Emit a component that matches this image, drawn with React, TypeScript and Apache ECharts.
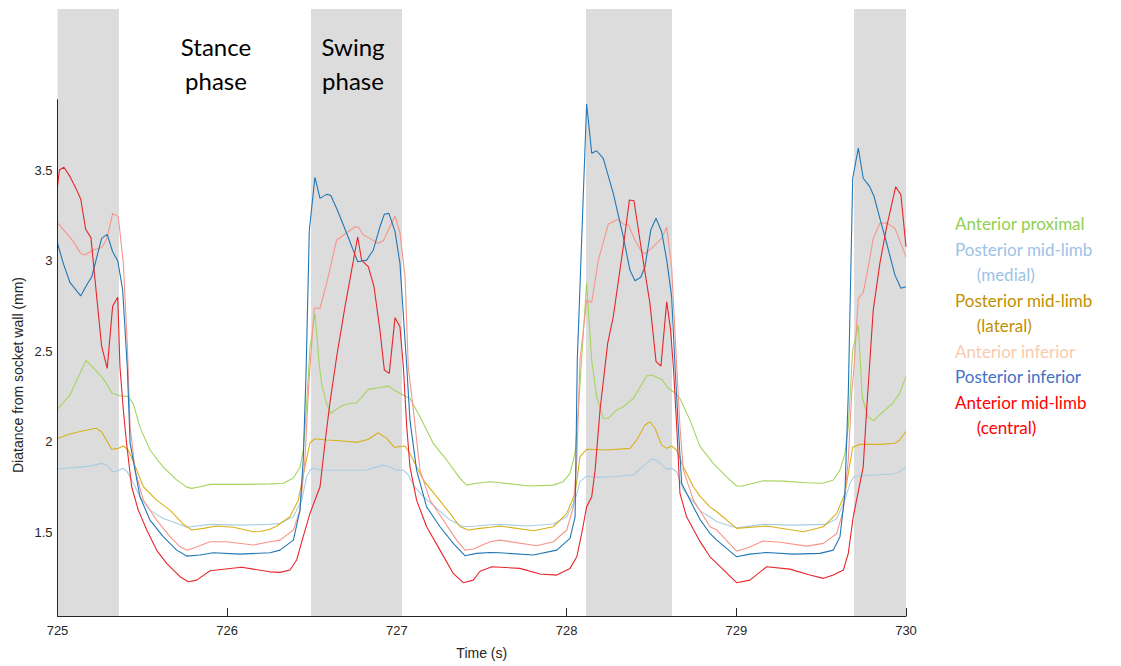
import React, { useEffect, useRef } from "react";
import * as echarts from "echarts";

const seriesNames = [
  "Anterior proximal",
  "Posterior mid-limb (medial)",
  "Posterior mid-limb (lateral)",
  "Anterior inferior",
  "Posterior inferior",
  "Anterior mid-limb (central)",
];

const legendLabels: Record<string, string> = {
  "Anterior proximal": "Anterior proximal",
  "Posterior mid-limb (medial)": "Posterior mid-limb\n     (medial)",
  "Posterior mid-limb (lateral)": "Posterior mid-limb\n     (lateral)",
  "Anterior inferior": "Anterior inferior",
  "Posterior inferior": "Posterior inferior",
  "Anterior mid-limb (central)": "Anterior mid-limb\n     (central)",
};

const lineColors = ["#a5d45e", "#a9cde4", "#d8b11c", "#f6958b", "#2277b4", "#e7252a"];
const legendColors = ["#92d050", "#9dc3e6", "#bf9000", "#f8cbad", "#4472c4", "#ff0000"];

// gray swing-phase bands (s)
const swingBands = [
  [725, 725.362],
  [726.494, 727.03],
  [728.114, 728.621],
  [729.694, 730],
];

const yTickValues = [1.5, 2, 2.5, 3, 3.5];
const yMin = 1.038;
const yAxisTop = 3.892;
const yPlotMax = 4.391;

const anteriorProximal = [
  [725, 2.18], [725.074, 2.26], [725.168, 2.45], [725.26, 2.36], [725.29, 2.32], [725.32, 2.27],
  [725.368, 2.255], [725.417, 2.25], [725.447, 2.21], [725.486, 2.08], [725.545, 1.955], [725.623, 1.86],
  [725.702, 1.79], [725.761, 1.75], [725.791, 1.743], [725.84, 1.752], [725.899, 1.765], [726.075, 1.765],
  [726.252, 1.768], [726.331, 1.771], [726.39, 1.8], [726.429, 1.86], [726.448, 1.955], [726.462, 2.12],
  [726.488, 2.52], [726.517, 2.71], [726.543, 2.42], [726.557, 2.32], [726.586, 2.21], [726.61, 2.157],
  [726.665, 2.194], [726.704, 2.209], [726.763, 2.216], [726.832, 2.29], [726.881, 2.297], [726.949, 2.308],
  [726.989, 2.282], [727.038, 2.259], [727.077, 2.24], [727.136, 2.139], [727.214, 1.992], [727.293, 1.9],
  [727.372, 1.798], [727.411, 1.761], [727.47, 1.771], [727.549, 1.78], [727.608, 1.774], [727.784, 1.756],
  [727.922, 1.761], [727.98, 1.78], [728.02, 1.826], [728.05, 1.936], [728.069, 2.176], [728.118, 2.88],
  [728.148, 2.45], [728.177, 2.249], [728.216, 2.13], [728.246, 2.13], [728.295, 2.176], [728.334, 2.194],
  [728.393, 2.24], [728.472, 2.364], [728.501, 2.369], [728.56, 2.345], [728.599, 2.296], [728.629, 2.277],
  [728.668, 2.24], [728.727, 2.12], [728.786, 1.975], [728.864, 1.881], [728.943, 1.807], [729.002, 1.756],
  [729.041, 1.757], [729.159, 1.785], [729.277, 1.783], [729.415, 1.774], [729.513, 1.771], [729.572, 1.789],
  [729.611, 1.844], [729.64, 1.936], [729.66, 2.083], [729.686, 2.507], [729.719, 2.645], [729.742, 2.249],
  [729.775, 2.139], [729.809, 2.117], [729.854, 2.157], [729.922, 2.213], [729.962, 2.268], [730, 2.36],
];

const posteriorMedial = [
  [725, 1.85], [725.113, 1.859], [725.192, 1.866], [725.26, 1.881], [725.29, 1.872], [725.325, 1.835],
  [725.358, 1.84], [725.384, 1.854], [725.411, 1.835], [725.447, 1.771], [725.486, 1.697], [725.545, 1.623],
  [725.623, 1.577], [725.702, 1.55], [725.761, 1.528], [725.899, 1.544], [726.075, 1.54], [726.252, 1.544],
  [726.311, 1.55], [726.39, 1.586], [726.439, 1.678], [726.468, 1.807], [726.488, 1.844], [726.507, 1.854],
  [726.557, 1.844], [726.684, 1.843], [726.822, 1.844], [726.871, 1.859], [726.92, 1.872], [726.959, 1.862],
  [726.989, 1.844], [727.038, 1.844], [727.067, 1.817], [727.097, 1.761], [727.156, 1.697], [727.234, 1.633],
  [727.313, 1.568], [727.391, 1.531], [727.47, 1.535], [727.549, 1.542], [727.608, 1.544], [727.765, 1.535],
  [727.922, 1.546], [728.001, 1.586], [728.05, 1.678], [728.079, 1.78], [728.118, 1.811], [728.177, 1.804],
  [728.275, 1.807], [728.393, 1.817], [728.452, 1.866], [728.501, 1.905], [728.531, 1.899], [728.59, 1.848],
  [728.619, 1.854], [728.648, 1.835], [728.688, 1.734], [728.747, 1.669], [728.786, 1.62], [728.845, 1.585],
  [728.885, 1.559], [729.002, 1.525], [729.159, 1.544], [729.336, 1.54], [729.533, 1.544], [729.592, 1.577],
  [729.64, 1.678], [729.67, 1.771], [729.694, 1.807], [729.729, 1.813], [729.925, 1.822], [729.962, 1.835],
  [730, 1.862],
];

const posteriorLateral = [
  [725, 2.019], [725.074, 2.043], [725.152, 2.061], [725.227, 2.075], [725.26, 2.056], [725.319, 1.959],
  [725.358, 1.964], [725.388, 1.977], [725.417, 1.955], [725.467, 1.844], [725.506, 1.752], [725.584, 1.678],
  [725.663, 1.623], [725.741, 1.546], [725.791, 1.513], [725.859, 1.522], [725.938, 1.535], [726.036, 1.528],
  [726.154, 1.503], [726.193, 1.505], [726.252, 1.517], [726.292, 1.535], [726.37, 1.586], [726.419, 1.678],
  [726.458, 1.862], [726.488, 1.995], [726.517, 2.017], [726.586, 2.01], [726.665, 2.006], [726.763, 1.997],
  [726.832, 2.014], [726.89, 2.05], [726.94, 2.019], [726.985, 1.97], [727.048, 1.977], [727.077, 1.936],
  [727.156, 1.789], [727.234, 1.697], [727.313, 1.605], [727.372, 1.531], [727.421, 1.513], [727.49, 1.522],
  [727.549, 1.528], [727.608, 1.535], [727.804, 1.509], [727.922, 1.531], [728.001, 1.605], [728.05, 1.715],
  [728.079, 1.918], [728.118, 1.959], [728.236, 1.955], [728.373, 1.964], [728.413, 2.01], [728.462, 2.093],
  [728.491, 2.111], [728.521, 2.075], [728.56, 1.982], [728.59, 1.964], [728.619, 1.977], [728.648, 1.955],
  [728.688, 1.862], [728.747, 1.752], [728.786, 1.7], [728.845, 1.641], [728.885, 1.614], [729.002, 1.522],
  [729.179, 1.535], [729.395, 1.503], [729.513, 1.531], [729.592, 1.605], [729.64, 1.715], [729.67, 1.881],
  [729.686, 1.97], [729.729, 1.986], [729.847, 1.986], [729.935, 1.992], [729.962, 2.01], [730, 2.056],
];

const anteriorInferior = [
  [725, 3.21], [725.054, 3.152], [725.093, 3.106], [725.137, 3.041], [725.162, 3.032], [725.211, 3.06],
  [725.26, 3.074], [725.29, 3.119], [725.325, 3.262], [725.358, 3.244], [725.388, 2.986], [725.411, 2.544],
  [725.428, 2.083], [725.457, 1.844], [725.506, 1.678], [725.584, 1.568], [725.663, 1.476], [725.722, 1.42],
  [725.761, 1.402], [725.8, 1.412], [725.899, 1.448], [725.997, 1.448], [726.154, 1.43], [726.252, 1.448],
  [726.311, 1.457], [726.39, 1.513], [726.429, 1.623], [726.458, 1.9], [726.478, 2.268], [726.488, 2.415],
  [726.513, 2.738], [726.547, 2.738], [726.586, 2.876], [726.645, 3.115], [726.704, 3.155], [726.753, 3.188],
  [726.773, 3.185], [726.802, 3.143], [726.841, 3.124], [726.89, 3.097], [726.92, 3.111], [726.959, 3.188],
  [726.989, 3.247], [727.018, 3.155], [727.048, 2.912], [727.067, 2.415], [727.097, 2.176], [727.136, 1.844],
  [727.195, 1.678], [727.273, 1.568], [727.352, 1.457], [727.401, 1.402], [727.45, 1.408], [727.549, 1.448],
  [727.608, 1.457], [727.824, 1.426], [727.922, 1.448], [728.001, 1.513], [728.04, 1.641], [728.06, 1.9],
  [728.079, 2.452], [728.118, 2.78], [728.148, 2.771], [728.187, 3.004], [728.246, 3.203], [728.305, 3.229],
  [728.334, 3.203], [728.364, 3.198], [728.403, 3.115], [728.442, 3.05], [728.466, 3.041], [728.511, 3.078],
  [728.56, 3.124], [728.59, 3.185], [728.619, 2.967], [728.649, 2.415], [728.668, 2.083], [728.688, 1.844],
  [728.747, 1.678], [728.786, 1.62], [728.845, 1.531], [728.885, 1.513], [729.002, 1.397], [729.061, 1.412],
  [729.159, 1.452], [729.258, 1.445], [729.415, 1.424], [729.513, 1.439], [729.592, 1.494], [729.631, 1.623],
  [729.66, 1.9], [729.68, 2.268], [729.694, 2.415], [729.719, 2.793], [729.748, 2.824], [729.778, 2.967],
  [729.807, 3.124], [729.846, 3.207], [729.886, 3.21], [729.935, 3.179], [730, 3.023],
];

const posteriorInferior = [
  [725, 3.097], [725.034, 2.986], [725.074, 2.879], [725.137, 2.806], [725.172, 2.866], [725.202, 2.912],
  [725.26, 3.124], [725.293, 3.146], [725.325, 3.05], [725.355, 3.0], [725.384, 2.839], [725.411, 2.415],
  [725.428, 1.992], [725.457, 1.844], [725.486, 1.697], [725.545, 1.568], [725.623, 1.476], [725.702, 1.402],
  [725.761, 1.369], [725.84, 1.375], [725.918, 1.387], [726.075, 1.38], [726.252, 1.387], [726.311, 1.402],
  [726.39, 1.457], [726.429, 1.623], [726.448, 1.9], [726.464, 2.36], [726.484, 3.17], [726.517, 3.461],
  [726.547, 3.345], [726.586, 3.367], [726.61, 3.362], [726.649, 3.281], [726.704, 3.152], [726.769, 2.995],
  [726.822, 3.004], [726.861, 3.06], [726.9, 3.188], [726.926, 3.257], [726.953, 3.262], [726.989, 3.161],
  [727.018, 2.986], [727.058, 2.415], [727.077, 2.12], [727.116, 1.844], [727.175, 1.641], [727.254, 1.531],
  [727.332, 1.439], [727.401, 1.371], [727.47, 1.384], [727.549, 1.389], [727.608, 1.387], [727.804, 1.375],
  [727.942, 1.402], [728.02, 1.467], [728.05, 1.586], [728.063, 2.452], [728.118, 3.866], [728.148, 3.594],
  [728.177, 3.608], [728.216, 3.566], [728.275, 3.373], [728.334, 3.133], [728.373, 2.949], [728.403, 2.89],
  [728.437, 2.909], [728.462, 2.967], [728.496, 3.17], [728.527, 3.235], [728.56, 3.161], [728.59, 3.004],
  [728.619, 2.802], [728.639, 2.415], [728.658, 2.083], [728.678, 1.771], [728.747, 1.641], [728.786, 1.572],
  [728.845, 1.494], [728.885, 1.457], [729.002, 1.365], [729.08, 1.38], [729.179, 1.389], [729.336, 1.38],
  [729.493, 1.384], [729.572, 1.402], [729.611, 1.476], [729.64, 1.715], [729.66, 2.268], [729.686, 3.456],
  [729.719, 3.622], [729.748, 3.456], [729.784, 3.413], [729.811, 3.358], [729.846, 3.235], [729.886, 3.097],
  [729.935, 2.921], [729.97, 2.848], [730, 2.857],
];

const anteriorMidLimb = [
  [725, 3.409], [725.011, 3.502], [725.038, 3.517], [725.074, 3.465], [725.109, 3.4], [725.137, 3.34],
  [725.166, 3.174], [725.197, 3.128], [725.227, 2.839], [725.26, 2.529], [725.293, 2.406], [725.325, 2.75],
  [725.355, 2.798], [725.368, 2.415], [725.388, 2.176], [725.407, 1.992], [725.437, 1.752], [725.476, 1.623],
  [725.526, 1.513], [725.584, 1.402], [725.643, 1.329], [725.722, 1.255], [725.771, 1.227], [725.82, 1.236],
  [725.899, 1.288], [725.977, 1.296], [726.085, 1.307], [726.154, 1.297], [726.252, 1.282], [726.311, 1.279],
  [726.37, 1.292], [726.409, 1.347], [726.448, 1.476], [726.488, 1.605], [726.547, 1.752], [726.576, 1.992],
  [726.605, 2.213], [726.645, 2.47], [726.694, 2.746], [726.769, 3.133], [726.792, 3.004], [726.832, 2.967],
  [726.865, 2.857], [726.9, 2.618], [726.926, 2.397], [726.955, 2.378], [726.989, 2.686], [727.018, 2.636],
  [727.038, 2.415], [727.058, 2.083], [727.077, 1.862], [727.116, 1.678], [727.175, 1.531], [727.254, 1.402],
  [727.332, 1.273], [727.391, 1.222], [727.45, 1.236], [727.49, 1.285], [727.56, 1.31], [727.725, 1.301],
  [727.843, 1.27], [727.942, 1.264], [728.02, 1.301], [728.06, 1.365], [728.089, 1.494], [728.118, 1.641],
  [728.148, 1.697], [728.168, 1.844], [728.197, 2.176], [728.242, 2.544], [728.275, 2.691], [728.334, 3.078],
  [728.37, 3.336], [728.397, 3.332], [728.432, 3.115], [728.491, 2.765], [728.527, 2.443], [728.556, 2.419],
  [728.59, 2.774], [728.613, 2.618], [728.629, 2.415], [728.649, 2.083], [728.668, 1.715], [728.707, 1.586],
  [728.786, 1.45], [728.845, 1.365], [728.885, 1.329], [729.002, 1.222], [729.08, 1.236], [729.179, 1.31],
  [729.316, 1.297], [729.434, 1.264], [729.513, 1.246], [729.572, 1.264], [729.631, 1.292], [729.66, 1.384],
  [729.689, 1.586], [729.748, 1.862], [729.768, 2.176], [729.807, 2.728], [729.846, 2.986], [729.886, 3.188],
  [729.939, 3.409], [729.97, 3.364], [730, 3.078],
];

const seriesData = [
  anteriorProximal,
  posteriorMedial,
  posteriorLateral,
  anteriorInferior,
  posteriorInferior,
  anteriorMidLimb,
];

const axisColor = "#262626";
const axisFont = "Liberation Sans";

export default function App() {
  const ref = useRef<HTMLDivElement>(null);

  useEffect(() => {
    const chart = echarts.init(ref.current as HTMLDivElement, null, { renderer: "svg" });
    chart.setOption({
      animation: false,
      backgroundColor: "#ffffff",
      grid: { left: 57.5, right: 215, top: 9, bottom: 50, containLabel: false },
      xAxis: {
        type: "value",
        min: 725,
        max: 730,
        interval: 1,
        name: "Time (s)",
        nameLocation: "middle",
        nameGap: 30,
        nameTextStyle: { color: axisColor, fontFamily: axisFont, fontSize: 14 },
        axisLine: { show: true, onZero: false, lineStyle: { color: axisColor, width: 1 } },
        axisTick: { show: true, inside: true, length: 8, lineStyle: { color: axisColor } },
        axisLabel: { color: axisColor, fontFamily: axisFont, fontSize: 13, margin: 8 },
        splitLine: { show: false },
      },
      yAxis: {
        type: "value",
        min: yMin,
        max: yPlotMax,
        axisLine: { show: false },
        axisTick: {
          show: true,
          inside: true,
          length: 8,
          customValues: yTickValues,
          lineStyle: { color: axisColor },
        },
        axisLabel: {
          color: axisColor,
          fontFamily: axisFont,
          fontSize: 13,
          margin: 5,
          customValues: yTickValues,
          formatter: (v: number) => String(v),
        },
        splitLine: { show: false },
      },
      legend: {
        orient: "vertical",
        left: 945,
        top: 206,
        icon: "none",
        itemWidth: 0,
        itemHeight: 10,
        itemGap: 0,
        selectedMode: false,
        textStyle: { fontFamily: "Lato", fontSize: 17, lineHeight: 25.5 },
        formatter: (n: string) => legendLabels[n] || n,
        data: seriesNames.map((n, i) => ({ name: n, textStyle: { color: legendColors[i] } })),
      },
      graphic: [
        {
          type: "text",
          x: 216,
          y: 63,
          z: 100,
          silent: true,
          style: {
            text: "Stance\nphase",
            font: "24px Lato",
            fill: "#000000",
            align: "center",
            verticalAlign: "middle",
            lineHeight: 34,
          },
        },
        {
          type: "text",
          x: 353,
          y: 63,
          z: 100,
          silent: true,
          style: {
            text: "Swing\nphase",
            font: "24px Lato",
            fill: "#000000",
            align: "center",
            verticalAlign: "middle",
            lineHeight: 34,
          },
        },
        {
          type: "text",
          x: 18,
          y: 375,
          z: 100,
          rotation: Math.PI / 2,
          silent: true,
          style: {
            text: "Diatance from socket wall (mm)",
            font: "14px 'Liberation Sans'",
            fill: axisColor,
            align: "center",
            verticalAlign: "middle",
          },
        },
      ],
      series: [
        {
          type: "line",
          name: "__bands",
          data: [],
          silent: true,
          z: 1,
          markArea: {
            silent: true,
            itemStyle: { color: "#dcdcdc" },
            label: { show: false },
            data: swingBands.map(([a, b]) => [{ xAxis: a }, { xAxis: b }]),
          },
          markLine: {
            silent: true,
            symbol: ["none", "none"],
            label: { show: false },
            lineStyle: { color: axisColor, width: 1, type: "solid" },
            data: [[{ coord: [725, yMin] }, { coord: [725, yAxisTop] }]],
          },
        },
        ...seriesNames.map((name, i) => ({
          type: "line",
          name,
          data: seriesData[i],
          showSymbol: false,
          symbol: "none",
          z: 2,
          lineStyle: { width: 1.1, color: lineColors[i] },
          itemStyle: { color: lineColors[i] },
        })),
      ],
    });
    return () => chart.dispose();
  }, []);

  return (
    <div
      ref={ref}
      style={{ position: "absolute", left: 0, top: 0, width: 1121, height: 666 }}
    />
  );
}
